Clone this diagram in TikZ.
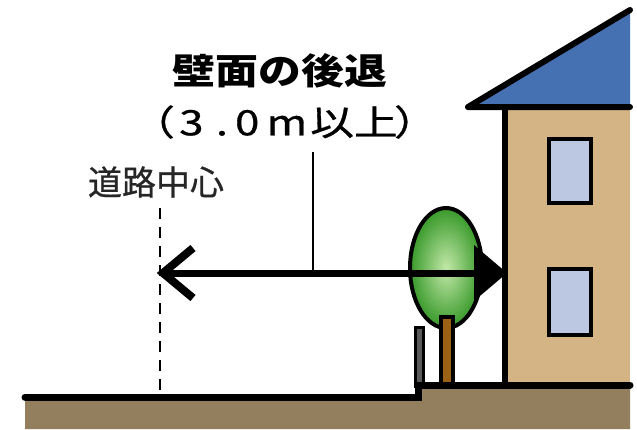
\documentclass[tikz,border=0pt]{standalone}
\usepackage{fontspec}
\usetikzlibrary{calc}
\newfontfamily\jpfont{Noto Sans CJK JP}
\newfontfamily\jpmedium[FakeBold=0.7]{Noto Sans CJK JP}
\definecolor{groundbrown}{HTML}{937E5E}
\definecolor{walltan}{HTML}{D4B385}
\definecolor{roofblue}{HTML}{4570B2}
\definecolor{glassblue}{HTML}{BCC8E1}
\definecolor{trunkbrown}{HTML}{9C6114}
\definecolor{leafdark}{HTML}{38992A}
\definecolor{leaflight}{HTML}{C2E8A8}
\definecolor{postgray}{HTML}{5A5A5A}
\tikzset{
  outline/.style={draw=black, line width=4pt},
  pane/.style={outline, fill=glassblue},
  label/.style={inner sep=0pt, font=\jpfont},
}
\begin{document}
\begin{tikzpicture}[x=1pt,y=-1pt]
\useasboundingbox (0,0) rectangle (637,429);

% ground
\fill[groundbrown] (25,397) -- (418,397) -- (418,385) -- (630,385) -- (630,429) -- (25,429) -- cycle;

% house body and roof
\fill[walltan] (505,107) rectangle (630,385);
\fill[roofblue] (468,107) -- (630,10) -- (630,107) -- cycle;
\draw[line width=6pt, line cap=round, line join=round] (630,10) -- (468,107) -- (630,107);
\draw[line width=6pt] (505,107) -- (505,385);
\draw[pane] (549,139) rectangle (591,203);
\draw[pane] (549,269) rectangle (591,335);

% small post and tree
\draw[line width=3pt, fill=postgray] (415,327) rectangle (423,386);
\draw[line width=4pt, inner color=leaflight, outer color=leafdark]
  (446,268) ellipse [x radius=36pt, y radius=60pt];
\draw[line width=4pt, fill=trunkbrown] (441,317) rectangle (453,386);

% ground line with the step
\draw[line width=7pt, line cap=round, line join=miter] (25,397) -- (418,397) -- (418,385) -- (630,385);

% road centre line
\coordinate (ctop) at (160,208);
\coordinate (cbot) at (160,395);
\draw[line width=2pt, dash pattern=on 11pt off 8pt] (ctop) -- (cbot);

% setback arrow
\coordinate (cl) at (163,273);
\coordinate (wall) at (507,273);
\coordinate (headbase) at (478,273);
\draw[line width=7pt] (cl) -- (headbase);
\draw[line width=8pt, line join=miter] ($(cl)+(30,-25)$) -- (cl) -- ($(cl)+(30,25)$);
\fill (wall) -- (474,245) -- (474,301) -- cycle;

% labels
\node[label, font=\jpfont\bfseries\fontsize{36}{36}\selectfont, xscale=1.19] (title) at (280,71) {壁面の後退};
\node[label, anchor=west, font=\jpmedium\fontsize{35}{35}\selectfont, xscale=1.25] (dist) at (131,122)
  {（\kern3.4pt 3\kern9.9pt .\kern5.6pt 0\kern5.9pt m\kern2.4pt 以上\kern-3pt ）};
\node[label, font=\jpmedium\fontsize{34}{34}\selectfont, text=black!85] (centre) at (156,182) {道路中心};

\coordinate (leadtop) at (313,152);
\coordinate (leadbot) at (313,271);
\draw[line width=2pt] (leadtop) -- (leadbot);
\end{tikzpicture}
\end{document}
